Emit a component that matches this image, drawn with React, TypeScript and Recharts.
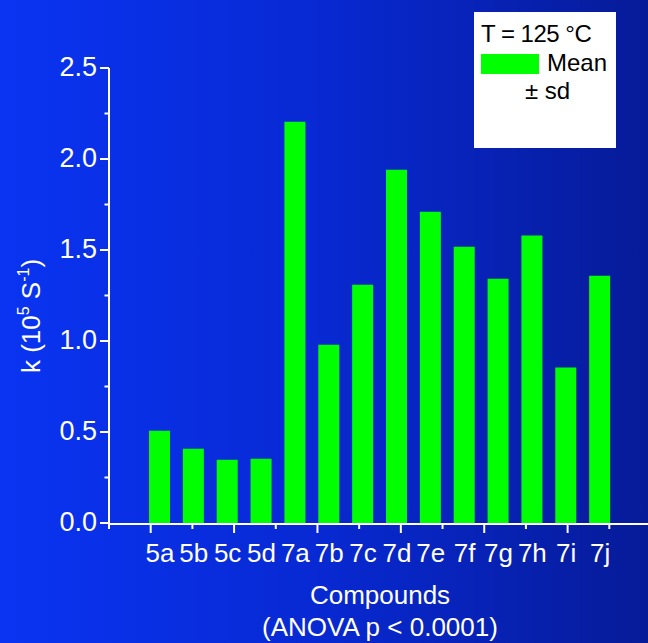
import React from 'react';
import { BarChart, Bar, XAxis, YAxis } from 'recharts';

const categories = ['5a', '5b', '5c', '5d', '7a', '7b', '7c', '7d', '7e', '7f', '7g', '7h', '7i', '7j'];
const meanK = [0.507, 0.408, 0.348, 0.353, 2.205, 0.98, 1.309, 1.941, 1.71, 1.518, 1.342, 1.579, 0.855, 1.359];
const yTicks = [0, 0.25, 0.5, 0.75, 1, 1.25, 1.5, 1.75, 2, 2.25, 2.5];
const yMajor = [0, 0.5, 1, 1.5, 2, 2.5];
const xTickMarks = Array.from({ length: 32 }, (_, i) => i);

const FONT = '"Liberation Sans", Arial, sans-serif';

const data = categories.map((c, i) => ({ compound: c, k: meanK[i] }));

const YTick = (props: any) => {
  const { x, y, payload } = props;
  const major = yMajor.includes(payload.value);
  return (
    <g>
      <line x1={x} x2={x - (major ? 9 : 4.5)} y1={y} y2={y} stroke="#fff" strokeWidth={2} />
      {major && (
        <text x={x - 12} y={y + 8} textAnchor="end" fill="#fff" fontSize={27} fontFamily={FONT}>
          {payload.value.toFixed(1)}
        </text>
      )}
    </g>
  );
};

const XMark = (props: any) => {
  const { x, y, payload } = props;
  const long = payload.value % 2 === 1;
  return <line x1={x} x2={x} y1={y} y2={y + (long ? 9 : 5)} stroke="#fff" strokeWidth={2} />;
};

const XLabel = (props: any) => {
  const { x, y, payload } = props;
  return (
    <text x={x} y={y + 39} textAnchor="middle" fill="#fff" fontSize={26} fontFamily={FONT}>
      {payload.value}
    </text>
  );
};

export default function App() {
  return (
    <div
      style={{
        position: 'absolute',
        left: 0,
        top: 0,
        width: 648,
        height: 643,
        overflow: 'hidden',
        background: 'linear-gradient(to right, #0a34f2 0%, #0829d2 50%, #061b98 100%)',
      }}
    >
      <BarChart width={651} height={643} data={data} margin={{ top: 68, right: 0, bottom: 118, left: 0 }}>
        <XAxis
          xAxisId="marks"
          type="number"
          domain={[0, 32]}
          ticks={xTickMarks}
          height={1}
          interval={0}
          axisLine={{ stroke: '#fff', strokeWidth: 2 }}
          tickLine={false}
          tickSize={0}
          tickMargin={0}
          tick={<XMark />}
        />
        <XAxis
          dataKey="compound"
          height={1}
          padding={{ left: 34, right: 34 }}
          axisLine={false}
          tickLine={false}
          tickSize={0}
          tickMargin={0}
          interval={0}
          tick={<XLabel />}
          label={{
            content: () => (
              <g>
                <text x={380} y={604} textAnchor="middle" fill="#fff" fontSize={26} fontFamily={FONT}>
                  Compounds
                </text>
                <text x={380} y={636} textAnchor="middle" fill="#fff" fontSize={26} fontFamily={FONT}>
                  (ANOVA p &lt; 0.0001)
                </text>
              </g>
            ),
          }}
        />
        <YAxis
          width={109}
          domain={[0, 2.5]}
          ticks={yTicks}
          interval={0}
          axisLine={{ stroke: '#fff', strokeWidth: 2 }}
          tickLine={false}
          tickSize={0}
          tickMargin={0}
          tick={<YTick />}
          label={{
            content: () => (
              <text
                transform="translate(40, 316) rotate(-90)"
                textAnchor="middle"
                fill="#fff"
                fontSize={26}
                fontFamily={FONT}
              >
                k (10
                <tspan fontSize={16} dy={-11}>5</tspan>
                <tspan dy={11}> S</tspan>
                <tspan fontSize={16} dy={-11}>-1</tspan>
                <tspan dy={11}>)</tspan>
              </text>
            ),
          }}
        />
        <Bar dataKey="k" fill="#00ff00" barSize={21} isAnimationActive={false} />
      </BarChart>
      <div
        style={{
          position: 'absolute',
          left: 474,
          top: 12,
          width: 142,
          height: 136,
          background: '#fff',
          fontFamily: FONT,
          fontSize: 24,
          color: '#000',
        }}
      >
        <div style={{ position: 'absolute', left: 7, top: 8, whiteSpace: 'nowrap', letterSpacing: -0.5 }}>T = 125 °C</div>
        <div style={{ position: 'absolute', left: 7, top: 42, width: 58, height: 20, background: '#00ff00' }} />
        <div style={{ position: 'absolute', left: 73, top: 37, whiteSpace: 'nowrap' }}>Mean</div>
        <div style={{ position: 'absolute', left: 51, top: 65, whiteSpace: 'nowrap' }}>± sd</div>
      </div>
    </div>
  );
}
